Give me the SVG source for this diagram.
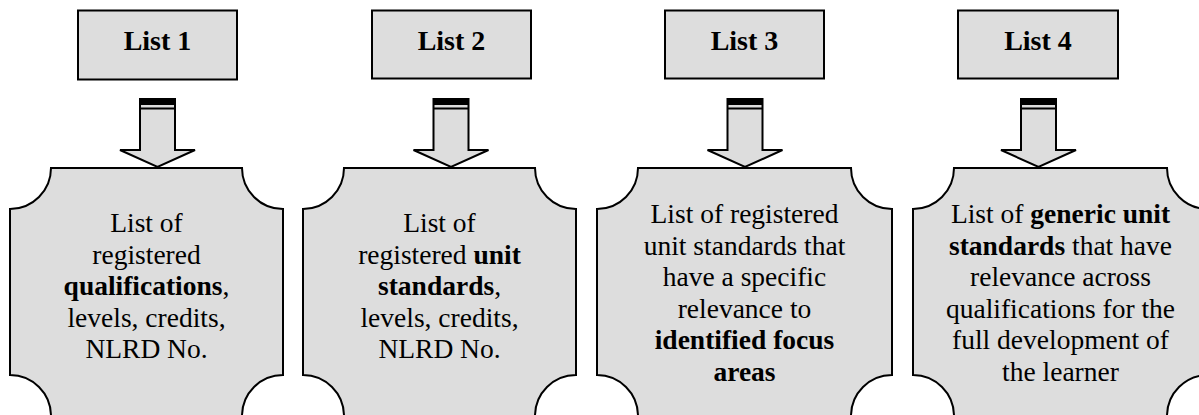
<svg xmlns="http://www.w3.org/2000/svg" width="1199" height="415" viewBox="0 0 1199 415">
  <style>
    .shape { fill: #dddddd; stroke: #000000; stroke-width: 2; stroke-linejoin: miter; }
    .bar { fill: #000000; stroke: none; }
    .stripe { stroke: #000000; stroke-width: 2; fill: none; }
    text { font-family: 'Liberation Serif', 'Times New Roman', Tinos, 'DejaVu Serif', serif; fill: #000000; text-anchor: middle; }
    .head { font-size: 28px; font-weight: bold; }
    .body { font-size: 27.5px; }
    .b { font-weight: bold; }
  </style>
  <rect x="0" y="0" width="1199" height="415" fill="#ffffff"/>

  <!-- Column 1 -->
  <g id="list1">
    <rect class="shape" x="78" y="10.5" width="159" height="69"/>
    <text class="head" x="157.5" y="50">List 1</text>
  </g>
  <g id="plaque1">
    <path class="shape" d="M51,168 H242 A41,41 0 0 0 283,209 V375 A41,41 0 0 0 242,416 H51 A41,41 0 0 0 10,375 V209 A41,41 0 0 0 51,168 Z"/>
    <text class="body" x="146.5" y="232">List of</text>
    <text class="body" x="146.5" y="263.5">registered</text>
    <text class="body" x="146.5" y="295"><tspan class="b">qualifications</tspan>,</text>
    <text class="body" x="146.5" y="326.5">levels, credits,</text>
    <text class="body" x="146.5" y="358">NLRD No.</text>
  </g>

  <!-- Column 2 -->
  <g id="list2">
    <rect class="shape" x="372" y="10.5" width="159" height="68"/>
    <text class="head" x="451.5" y="50">List 2</text>
  </g>
  <g id="plaque2">
    <path class="shape" d="M344,168 H535 A41,41 0 0 0 576,209 V375 A41,41 0 0 0 535,416 H344 A41,41 0 0 0 303,375 V209 A41,41 0 0 0 344,168 Z"/>
    <text class="body" x="439.5" y="232">List of</text>
    <text class="body" x="439.5" y="263.5">registered <tspan class="b">unit</tspan></text>
    <text class="body" x="439.5" y="295"><tspan class="b">standards</tspan>,</text>
    <text class="body" x="439.5" y="326.5">levels, credits,</text>
    <text class="body" x="439.5" y="358">NLRD No.</text>
  </g>

  <!-- Column 3 -->
  <g id="list3">
    <rect class="shape" x="665" y="10.5" width="159" height="68"/>
    <text class="head" x="744.5" y="50">List 3</text>
  </g>
  <g id="plaque3">
    <path class="shape" d="M638,168 H851 A41,41 0 0 0 892,209 V375 A41,41 0 0 0 851,416 H638 A41,41 0 0 0 597,375 V209 A41,41 0 0 0 638,168 Z"/>
    <text class="body" x="744.5" y="223">List of registered</text>
    <text class="body" x="744.5" y="254.5">unit standards that</text>
    <text class="body" x="744.5" y="286">have a specific</text>
    <text class="body" x="744.5" y="317.5">relevance to</text>
    <text class="body b" x="744.5" y="349">identified focus</text>
    <text class="body b" x="744.5" y="380.5">areas</text>
  </g>

  <!-- Column 4 -->
  <g id="list4">
    <rect class="shape" x="958" y="10.5" width="160" height="68"/>
    <text class="head" x="1038" y="50">List 4</text>
  </g>
  <g id="plaque4">
    <path class="shape" d="M954,168 H1167 A41,41 0 0 0 1208,209 V375 A41,41 0 0 0 1167,416 H954 A41,41 0 0 0 913,375 V209 A41,41 0 0 0 954,168 Z"/>
    <text class="body" x="1060.5" y="223">List of <tspan class="b">generic unit</tspan></text>
    <text class="body" x="1060.5" y="254.5"><tspan class="b">standards</tspan> that have</text>
    <text class="body" x="1060.5" y="286">relevance across</text>
    <text class="body" x="1060.5" y="317.5">qualifications for the</text>
    <text class="body" x="1060.5" y="349">full development of</text>
    <text class="body" x="1060.5" y="380.5">the learner</text>
  </g>

  <!-- Striped block arrows linking each list to its description -->
  <g id="connectors">
    <defs>
      <g id="striped-arrow">
        <path class="shape" d="M-17.5,99 H17.5 V150 H37.5 L0,167 L-37.5,150 H-17.5 Z"/>
        <rect class="bar" x="-17.5" y="98" width="35" height="7"/>
        <line class="stripe" x1="-17.5" y1="108.5" x2="17.5" y2="108.5"/>
      </g>
    </defs>
    <use href="#striped-arrow" x="157.5" y="0"/>
    <use href="#striped-arrow" x="451" y="0"/>
    <use href="#striped-arrow" x="745" y="0"/>
    <use href="#striped-arrow" x="1038.5" y="0"/>
  </g>
</svg>
